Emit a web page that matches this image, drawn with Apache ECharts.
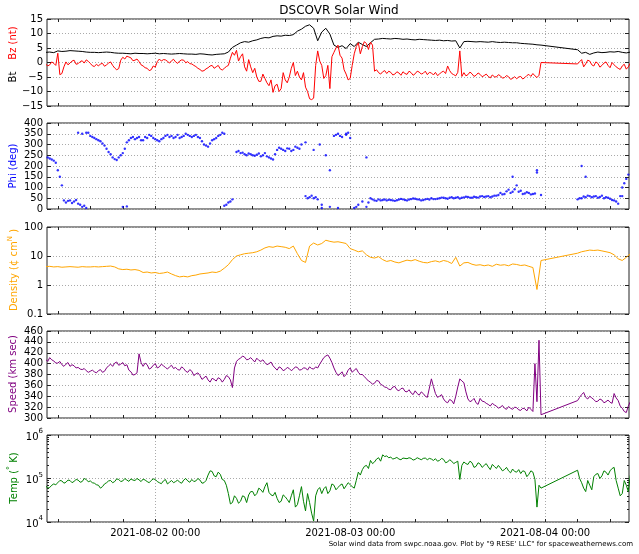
<!DOCTYPE html>
<html><head><meta charset="utf-8">
<script src="https://cdn.jsdelivr.net/npm/echarts@6/dist/echarts.min.js"></script>
<style>html,body{margin:0;padding:0;background:#fff}#c{width:639px;height:554px}</style>
</head><body><div id="c"></div>
<script>
// time grid: hours after 2021-08-01 00:00 UTC; "Mid" arrays sit halfway between grid points
const startHour = 10.5, stepHour = 0.5;
const xMin = 10.667, xMax = 82.333;
const dayTicks = [24, 48, 72];
const dayLabels = ['2021-08-02 00:00', '2021-08-03 00:00', '2021-08-04 00:00'];
const hourTicks = [12,16,20,24,28,32,36,40,44,48,52,56,60,64,68,72,76,80];
const N = null;

const bt = [3.5,3.6,3.4,4.0,3.8,3.9,4.1,4.0,3.9,3.8,3.6,3.5,
 3.5,3.4,3.5,3.6,3.5,3.3,3.2,3.2,3.1,3.0,3.2,3.1,
 3.1,3.0,3.1,3.2,3.0,3.1,3.0,2.9,3.0,3.1,3.0,2.9,
 2.9,2.8,3.0,2.9,2.7,2.6,2.8,2.9,3.0,3.6,5.2,6.0,
 6.8,7.2,7.0,7.5,7.8,8.3,8.6,8.5,9.0,9.2,9.1,9.4,
 9.3,9.6,10.8,11.5,12.5,13.0,11.8,7.5,10.5,11.8,9.8,6.0,
 5.2,5.8,4.8,6.5,5.5,7.0,6.2,5.5,6.8,8.0,8.1,8.3,
 8.2,8.1,8.3,8.2,8.0,8.1,7.9,7.8,8.0,7.9,7.8,7.7,
 7.6,7.7,7.5,7.6,7.4,7.5,5.0,7.2,7.3,7.2,7.1,7.2,
 7.1,7.0,7.2,7.0,6.9,7.0,6.9,6.8,6.8,6.6,6.5,6.4,
 6.3,6.1,6.0,N,N,N,N,N,N,N,N,4.4,
 3.2,3.5,2.8,3.3,3.6,3.4,3.5,3.7,3.6,3.8,3.5,3.3,3.6];

const bz = [-0.5,-0.8,-0.3,3.2,-3.8,0.2,-0.2,0.8,-0.4,0.6,0.9,-0.3,
 -1.4,-1.2,-0.3,-0.8,0.2,-1.9,-2.1,1.8,2.2,1.6,0.8,0.3,
 -1.2,-2.0,-2.5,-1.6,1.2,1.0,0.4,0.6,0.2,0.5,0.8,0.3,
 -0.5,-1.4,-2.4,-2.8,-1.8,-1.0,-1.5,-2.2,-2.0,-1.0,3.5,4.2,
 2.0,-1.5,1.0,-3.5,-5.0,-6.5,-5.5,-8.0,-10.3,-7.5,-9.0,-6.0,
 -5.0,0.0,-3.0,-6.0,-8.5,-12.5,-12.3,4.0,-1.0,-4.5,-9.0,3.5,
 6.0,1.5,-4.0,-5.5,3.0,6.8,5.5,6.5,7.0,-3.0,-3.5,-3.2,
 -3.8,-3.4,-4.0,-3.6,-3.2,-4.1,-3.5,-3.9,-3.3,-3.7,-4.2,-3.6,
 -3.4,-4.0,-3.0,-1.2,-3.8,-4.6,4.0,-3.5,-4.2,-3.9,-4.4,-4.1,
 -4.5,-4.8,-4.3,-5.0,-4.6,-5.2,-4.9,-5.5,-5.6,-4.8,-5.2,-4.1,
 -3.8,-5.2,0.0,N,N,N,N,N,N,N,N,-0.5,
 1.0,-0.5,0.5,-1.2,-0.3,-1.0,0.2,-1.8,-0.8,-2.0,-1.2,-2.3,-0.2];
const bzMid = [-1.2,0.2,-1.0,-4.2,-1.5,-0.8,0.5,-0.6,0.3,-0.2,0.4,-1.1,
 -0.6,-0.5,-1.3,-0.2,-1.0,-2.5,0.8,1.2,1.9,0.6,1.2,-0.8,
 -1.8,-2.8,-1.2,0.3,0.5,0.9,-0.2,1.1,-0.3,0.9,-0.1,-0.4,
 -1.0,-2.0,-3.0,-2.2,-1.2,-2.0,-1.0,-2.6,-1.4,1.5,2.5,0.5,
 3.0,-3.0,-1.5,-2.0,-6.5,-4.0,-7.0,-6.0,-8.0,-10.0,-3.5,-7.0,
 -2.0,-4.5,-5.0,-3.5,-10.0,-12.8,-1.0,0.5,-5.5,-1.0,2.0,5.0,
 2.5,-2.5,-6.0,-1.0,5.5,3.0,7.2,4.5,6.0,-2.5,-4.0,-2.8,
 -3.0,-4.3,-3.2,-4.4,-3.8,-3.0,-4.4,-3.0,-4.0,-3.0,-3.4,-4.3,
 -4.5,-3.3,-3.8,-2.8,-4.2,-3.4,-4.8,-4.6,-3.3,-4.8,-3.6,-4.9,
 -4.0,-5.3,-4.9,-4.2,-5.4,-4.5,-5.8,-4.9,-5.0,-5.7,-4.5,-4.8,
 -4.6,-4.4,N,N,N,N,N,N,N,N,N,0.3,
 -1.5,0.8,-0.8,0.2,-1.6,-0.2,-1.0,0.0,-1.5,-2.4,-0.6,-1.5];

const phi = [245,235,225,180,110,30,40,35,25,10,5,340,
 330,320,305,280,255,232,240,260,310,330,325,335,
 320,330,340,325,315,330,345,340,335,330,340,345,
 335,345,330,300,290,320,330,345,350,30,45,265,
 260,255,258,250,252,245,260,240,230,275,280,270,
 280,275,285,300,60,55,50,45,20,250,180,340,
 350,335,345,330,5,20,35,10,50,40,45,42,
 40,42,38,44,45,40,46,48,44,42,47,50,
 46,50,52,48,55,52,49,54,56,52,55,58,
 56,60,58,62,75,70,90,80,110,85,72,75,
 70,180,65,N,N,N,N,N,N,N,N,45,
 50,55,60,58,52,62,55,48,40,25,100,140,175];
const phiMid = [240,230,215,150,40,38,28,42,20,15,355,335,
 325,315,295,265,240,228,250,280,320,335,330,320,
 335,345,330,320,325,340,335,330,345,335,350,340,
 340,335,315,295,305,325,340,355,20,35,N,270,
 262,250,255,248,258,250,245,235,255,285,275,282,
 270,290,280,N,50,62,55,300,N,N,N,345,
 340,N,355,N,10,N,N,30,45,38,40,44,
 43,40,41,47,42,44,49,45,40,45,44,46,
 48,53,50,52,50,55,52,57,53,57,53,60,
 58,55,62,65,68,82,75,92,80,70,78,68,
 72,N,N,N,N,N,N,N,N,N,N,50,
 58,62,55,60,56,50,52,42,35,60,120,160];
const phiExtraHours = [14.5,15,15.5,20,20.5,32.5,42.5,43.5,44.5,45.5,46.5,47.5,50,68,71,76.5,77,81.5];
const phiExtraValues = [355,350,355,10,12,15,310,275,5,10,5,350,240,150,170,200,150,60];

const density = [4.3,4.4,4.2,4.3,4.1,4.2,4.3,4.2,4.1,4.3,4.2,4.2,
 4.3,4.2,4.3,4.4,4.5,4.2,3.6,3.4,3.5,3.3,3.4,3.2,
 2.7,2.8,2.6,2.7,2.5,2.6,2.8,2.4,2.1,1.9,2.0,1.9,
 2.1,2.2,2.4,2.5,2.6,2.8,2.7,3.0,3.8,5.0,7.5,10.0,
 11,12,12.5,13,14,16,19,21,20,22,21,20,
 18,22,12,7,6.0,22,28,24,27,35,32,30,
 31,29,27,18,16,14,15,11,9,8.5,9.5,7.5,
 6.5,7.0,6.2,5.8,6.5,7.2,6.8,7.5,6.6,6.0,5.8,6.4,
 6.8,6.2,7.0,6.5,5.5,9.0,4.5,5.8,6.0,5.2,4.8,5.0,
 4.6,4.9,4.4,5.2,4.8,5.0,4.6,5.3,5.1,4.7,4.9,4.4,
 4.0,0.7,7.0,N,N,N,N,N,N,N,N,12.5,
 14,15,16,15.5,16,15,14,13,11,8,7,9,12];

const speed = [408,411,405,401,398,399,395,396,393,389,387,386,
 385,387,384,392,399,401,397,402,398,385,380,418,
 395,398,392,400,394,396,390,397,393,388,391,384,
 386,381,378,374,370,373,368,372,371,376,356,404,
 410,412,408,407,410,404,402,400,396,388,392,389,
 391,390,393,389,392,394,390,392,405,414,410,392,
 378,385,380,392,388,384,380,372,366,364,368,360,
 356,352,358,350,355,348,346,350,342,345,338,372,
 345,340,335,328,332,340,372,365,335,332,328,336,
 330,325,327,322,320,318,321,316,319,314,317,320,
 312,330,306,N,N,N,N,N,N,N,N,332,
 343,338,340,334,331,333,330,329,345,332,318,310,330];
const speedMid = [404,407,401,404,395,402,398,392,390,391,384,388,
 383,389,386,396,395,403,399,396,388,379,383,402,
 401,390,397,392,399,393,394,391,389,394,386,389,
 378,383,371,377,366,371,374,366,378,370,392,408,
 414,407,411,403,406,407,398,403,392,394,387,393,
 387,394,388,392,388,391,394,399,411,416,402,384,
 381,376,388,384,391,380,376,368,362,369,362,357,
 353,357,352,354,349,352,343,345,348,340,355,358,
 338,343,330,334,326,357,368,348,330,336,325,331,
 327,322,324,318,323,316,318,320,315,318,313,316,
 400,443,N,N,N,N,N,N,N,N,N,338,
 347,335,337,330,335,328,333,327,337,322,312,322];

const temp = [68000,62000,75000,80000,88000,82000,90000,86000,92000,85000,95000,88000,
 78000,70000,65000,80000,90000,85000,95000,88000,92000,98000,90000,93000,
 97000,85000,90000,95000,80000,88000,75000,90000,85000,82000,92000,88000,
 95000,88000,92000,80000,120000,145000,110000,125000,90000,45000,28000,35000,
 30000,38000,42000,50000,45000,55000,65000,48000,40000,35000,30000,38000,
 28000,55000,25000,65000,18000,28000,10500,55000,45000,65000,52000,70000,
 62000,75000,68000,72000,60000,140000,160000,200000,260000,240000,300000,350000,
 330000,310000,290000,280000,295000,285000,290000,275000,285000,290000,270000,280000,
 285000,260000,275000,240000,250000,235000,95000,240000,210000,230000,190000,215000,
 200000,185000,210000,170000,175000,160000,150000,165000,140000,130000,145000,125000,
 140000,22000,60000,N,N,N,N,N,N,N,N,155000,
 80000,50000,70000,110000,130000,115000,140000,150000,180000,60000,45000,70000,120000];
const tempMid = [60000,70000,72000,90000,78000,92000,80000,95000,82000,100000,84000,80000,
 72000,60000,75000,88000,80000,98000,85000,100000,86000,92000,100000,85000,
 92000,80000,98000,85000,76000,95000,82000,80000,92000,78000,100000,82000,
 85000,100000,78000,90000,150000,115000,140000,95000,70000,26000,40000,27000,
 40000,28000,50000,40000,60000,48000,80000,42000,48000,28000,42000,33000,
 40000,22000,40000,30000,45000,16000,40000,62000,58000,45000,75000,55000,
 70000,58000,80000,65000,90000,120000,190000,170000,220000,280000,250000,320000,
 300000,280000,305000,270000,290000,300000,265000,300000,270000,295000,290000,260000,
 250000,290000,230000,270000,220000,250000,200000,220000,250000,180000,230000,180000,
 220000,160000,190000,200000,150000,180000,135000,145000,160000,150000,110000,150000,
 95000,70000,N,N,N,N,N,N,N,N,N,100000,
 60000,90000,55000,125000,100000,150000,120000,170000,90000,40000,90000,50000];

const tempMinorTicks = [20000,30000,40000,50000,60000,70000,80000,90000,200000,300000,400000,500000,600000,700000,800000,900000];

function pairs(base, mid) {
  const out = [];
  base.forEach((v, i) => { if (v !== null) out.push([startHour + i * stepHour, v]); });
  if (mid) mid.forEach((v, i) => { if (v !== null) out.push([startHour + stepHour / 2 + i * stepHour, v]); });
  out.sort((a, b) => a[0] - b[0]);
  return out;
}
const FONT = 'DejaVu Sans';
const AX = '#222';

const grids = [[19,87],[123,86],[227,87],[331,87],[435,87]].map(([t,h]) => ({
  left: 47, width: 582, top: t, height: h, show: true,
  borderColor: AX, borderWidth: 1, backgroundColor: 'transparent'
}));

const xAxes = [];
for (let g = 0; g < 5; g++) {
  const base = {type: 'value', gridIndex: g, min: xMin, max: xMax,
    axisLine: {show: false, onZero: false}, splitLine: {show: false}};
  xAxes.push(Object.assign({}, base, {position: 'bottom',
    axisTick: {show: true, inside: true, length: 3, customValues: hourTicks, lineStyle: {color: AX}},
    axisLabel: {show: false}}));
  xAxes.push(Object.assign({}, base, {position: 'top',
    axisTick: {show: true, inside: true, length: 3, customValues: hourTicks, lineStyle: {color: AX}},
    axisLabel: {show: false}}));
  xAxes.push(Object.assign({}, base, {position: 'bottom',
    axisTick: {show: false, customValues: dayTicks},
    axisLabel: {show: g === 4, customValues: dayTicks, margin: 6, fontSize: 10, fontFamily: FONT, color: '#000',
      formatter: v => dayLabels[dayTicks.indexOf(Math.round(v))] || ''},
    splitLine: {show: true, lineStyle: {color: '#aaa', type: [1, 2], width: 1}}}));
}

const supRich = {
  b: {fontSize: 10, fontFamily: FONT, color: '#000', verticalAlign: 'bottom', lineHeight: 14},
  s: {fontSize: 7, fontFamily: FONT, color: '#000', verticalAlign: 'top', lineHeight: 14}
};
const ySpecs = [
  {type: 'value', min: -15, max: 15, interval: 5, fmt: v => String(v).replace('-', '\u2212')},
  {type: 'value', min: 0, max: 400, interval: 50, fmt: v => String(v)},
  {type: 'log', min: 0.1, max: 100, fmt: v => { const e = Math.round(Math.log10(v)); return e < 0 ? '0.1' : String(Math.pow(10, e)); }},
  {type: 'value', min: 300, max: 460, interval: 20, fmt: v => String(v)},
  {type: 'log', min: 1e4, max: 1e6, fmt: v => '{b|10}{s|' + Math.round(Math.log10(v)) + '}', rich: supRich}
];
const yAxes = [];
ySpecs.forEach((s, g) => {
  const base = {type: s.type, gridIndex: g, min: s.min, max: s.max};
  if (s.interval) base.interval = s.interval;
  if (s.type === 'log') base.logBase = 10;
  yAxes.push(Object.assign({}, base, {position: 'left',
    axisLine: {show: false, onZero: false},
    axisTick: {show: true, inside: true, length: 4, lineStyle: {color: AX}},
    axisLabel: {show: true, formatter: s.fmt, fontSize: 10, fontFamily: FONT, color: '#000', margin: 4,
      showMinLabel: true, showMaxLabel: true, rich: s.rich},
    splitLine: {show: true, lineStyle: {color: '#aaa', type: [1, 2], width: 1}}}));
  yAxes.push(Object.assign({}, base, {position: 'right',
    axisLine: {show: false, onZero: false},
    axisTick: {show: true, inside: true, length: 4, lineStyle: {color: AX}},
    axisLabel: {show: false}, splitLine: {show: false}}));
});
['left', 'right'].forEach(p => {
  yAxes.push({type: 'log', logBase: 10, gridIndex: 4, min: 1e4, max: 1e6, position: p,
    axisLine: {show: false, onZero: false},
    axisTick: {show: true, inside: true, length: 2, customValues: tempMinorTicks, lineStyle: {color: AX}},
    axisLabel: {show: false}, splitLine: {show: false}});
});

function lineSeries(data, mid, g, color) {
  return {type: 'line', xAxisIndex: 3 * g, yAxisIndex: 2 * g, data: pairs(data, mid), showSymbol: false,
    symbol: 'none', connectNulls: true, lineStyle: {color: color, width: 1}, itemStyle: {color: color},
    animation: false, silent: true, clip: true};
}
const phiPoints = pairs(phi, phiMid).concat(phiExtraHours.map((h, i) => [h, phiExtraValues[i]]));

const series = [
  lineSeries(bt, null, 0, '#000000'),
  lineSeries(bz, bzMid, 0, '#ff0000'),
  {type: 'scatter', xAxisIndex: 3, yAxisIndex: 2, data: phiPoints, symbol: 'circle', symbolSize: 2.4,
    itemStyle: {color: '#0000ff', borderWidth: 0}, animation: false, silent: true, large: false},
  lineSeries(density, null, 2, '#ffa500'),
  lineSeries(speed, speedMid, 3, '#800080'),
  lineSeries(temp, tempMid, 4, '#008000')
];

function vText(x, y, text, rich) {
  return {type: 'text', x: x, y: y, rotation: Math.PI / 2,
    style: {text: text, rich: rich, font: '10px "DejaVu Sans"', fill: '#000', align: 'center', verticalAlign: 'middle'}};
}
const graphic = [
  {type: 'text', x: 339, y: 11, style: {text: 'DSCOVR Solar Wind', font: '12px "DejaVu Sans"', fill: '#000', align: 'center', verticalAlign: 'middle'}},
  {type: 'text', x: 633, y: 544, style: {text: 'Solar wind data from swpc.noaa.gov. Plot by "9 RESE\' LLC" for spaceweathernews.com', font: '7px "DejaVu Sans"', fill: '#000', align: 'right', verticalAlign: 'middle'}},
  vText(13, 77, '{k|Bt}', {k: {fill: '#000', fontSize: 10, fontFamily: FONT}}),
  vText(13, 43, '{r|Bz (nt)}', {r: {fill: '#ff0000', fontSize: 10, fontFamily: FONT}}),
  vText(13, 166, '{r|Phi (deg)}', {r: {fill: '#0000ff', fontSize: 10, fontFamily: FONT}}),
  vText(13, 270, '{r|Density (¢ cm}{s|N}{r| )}', {r: {fill: '#ffa500', fontSize: 10, fontFamily: FONT, verticalAlign: 'bottom', lineHeight: 13}, s: {fill: '#ffa500', fontSize: 7, fontFamily: FONT, verticalAlign: 'top', lineHeight: 13}}),
  vText(13, 374, '{r|Speed (km sec)}', {r: {fill: '#800080', fontSize: 10, fontFamily: FONT}}),
  vText(13, 478, '{r|Temp (}{s|\u00b0}{r| K)}', {r: {fill: '#008000', fontSize: 10, fontFamily: FONT, verticalAlign: 'bottom', lineHeight: 13}, s: {fill: '#008000', fontSize: 8, fontFamily: FONT, verticalAlign: 'top', lineHeight: 13}})
];

const chart = echarts.init(document.getElementById('c'), null, {renderer: 'canvas'});
chart.setOption({
  animation: false,
  backgroundColor: '#fff',
  textStyle: {fontFamily: FONT},
  grid: grids, xAxis: xAxes, yAxis: yAxes, series: series, graphic: graphic
});
</script></body></html>
